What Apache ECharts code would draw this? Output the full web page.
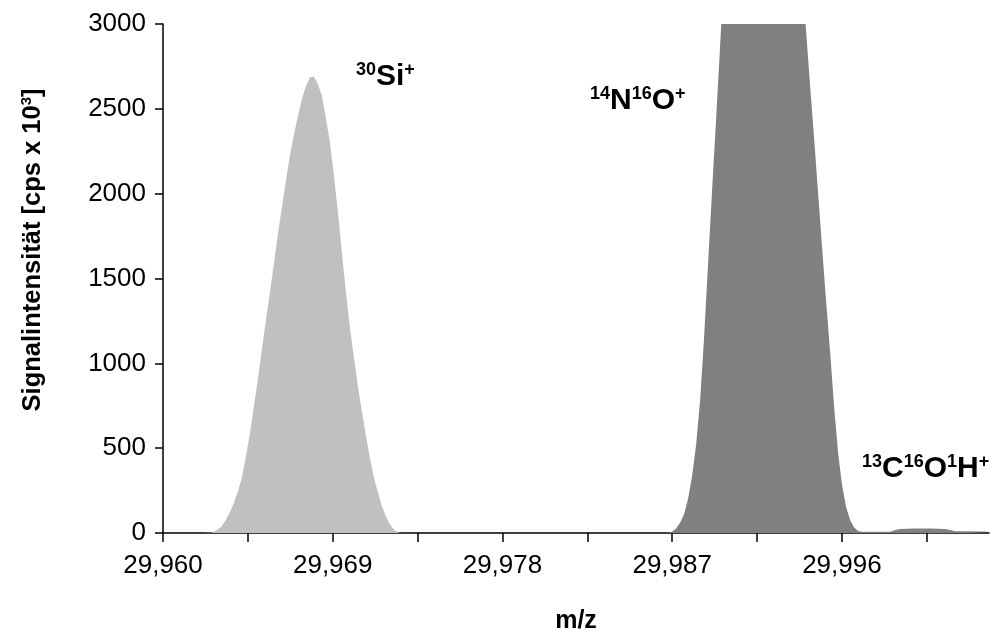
<!DOCTYPE html>
<html>
<head>
<meta charset="utf-8">
<script src="https://cdn.jsdelivr.net/npm/echarts@6/dist/echarts.min.js"></script>
<style>
  html, body { margin: 0; padding: 0; background: #fff; }
  #chart { width: 993px; height: 635px; }
</style>
</head>
<body>
<div id="chart"></div>
<script>
// m/z scans: [m/z, intensity in cps x 10^3]
const siPeak = [
  [29.96221, 0], [29.96263, 3], [29.96290, 20], [29.96311, 40], [29.96332, 75],
  [29.96353, 120], [29.96375, 175], [29.96396, 240], [29.96417, 320], [29.96438, 440],
  [29.96460, 580], [29.96481, 740], [29.96502, 900], [29.96523, 1070], [29.96544, 1240],
  [29.96566, 1410], [29.96587, 1580], [29.96608, 1750], [29.96629, 1910], [29.96651, 2070],
  [29.96672, 2220], [29.96693, 2340], [29.96714, 2450], [29.96736, 2555], [29.96757, 2630],
  [29.96778, 2685], [29.96799, 2690], [29.96820, 2650], [29.96842, 2580], [29.96863, 2450],
  [29.96884, 2310], [29.96905, 2120], [29.96927, 1900], [29.96948, 1660], [29.96969, 1430],
  [29.96990, 1220], [29.97012, 1040], [29.97033, 870], [29.97054, 720], [29.97075, 580],
  [29.97096, 450], [29.97118, 330], [29.97139, 240], [29.97160, 160], [29.97181, 100],
  [29.97203, 50], [29.97224, 20], [29.97245, 3], [29.97266, 0]
];

const noPeak = [
  [29.98678, 0], [29.98699, 8], [29.98720, 25], [29.98742, 60], [29.98763, 110],
  [29.98784, 200], [29.98805, 330], [29.98827, 520], [29.98848, 780], [29.98869, 1150],
  [29.98890, 1580], [29.98911, 2010], [29.98933, 2440], [29.98954, 2870], [29.98975, 3300],
  [29.99007, 3600], [29.99166, 3800], [29.99325, 3700],
  [29.99389, 3280], [29.99410, 2960], [29.99431, 2640], [29.99453, 2320], [29.99474, 2000],
  [29.99495, 1680], [29.99516, 1370], [29.99538, 1060], [29.99559, 740], [29.99580, 470],
  [29.99601, 280], [29.99623, 150], [29.99644, 75], [29.99665, 32], [29.99686, 12]
];

const cohPeak = [
  [29.99686, 12], [29.99707, 8], [29.99776, 7], [29.99856, 8], [29.99883, 18],
  [29.99909, 24], [29.99989, 26], [30.00068, 26], [30.00148, 24], [30.00175, 18],
  [30.00201, 11], [30.00281, 10], [30.00381, 8]
];

const xTicks = [29.960, 29.9645, 29.969, 29.9735, 29.978, 29.9825, 29.987, 29.9915, 29.996, 30.0005];
const xLabels = [29.960, 29.969, 29.978, 29.987, 29.996];
const yMax = 3000;
const yStep = 500;

const FONT = '"Liberation Sans", Arial, sans-serif';

const chart = echarts.init(document.getElementById('chart'), null, { renderer: 'canvas' });

function areaSeries(name, data, color) {
  return {
    name: name,
    type: 'line',
    data: data,
    symbol: 'none',
    clip: true,
    lineStyle: { width: 0 },
    areaStyle: { color: color, opacity: 1 },
    itemStyle: { color: color },
    silent: true,
    animation: false
  };
}

const supStyle = { fontFamily: FONT, fontWeight: 'bold', fontSize: 18, verticalAlign: 'top', lineHeight: 32 };
const mainStyle = { fontFamily: FONT, fontWeight: 'bold', fontSize: 30, lineHeight: 32 };

function ionLabel(text, left, top) {
  return {
    type: 'text',
    left: left,
    top: top,
    silent: true,
    style: {
      text: text,
      fill: '#000',
      rich: { s: supStyle, m: mainStyle }
    }
  };
}

chart.setOption({
  backgroundColor: '#fff',
  animation: false,
  grid: { left: 163, right: 4, top: 24, bottom: 102, outerBoundsMode: 'none' },
  xAxis: {
    type: 'value',
    min: 29.960,
    max: 30.0038,
    name: 'm/z',
    nameLocation: 'middle',
    nameGap: 76,
    nameTextStyle: { fontFamily: FONT, fontWeight: 'bold', fontSize: 25, color: '#000' },
    axisLine: { show: true, onZero: false, lineStyle: { color: '#000', width: 1.5 } },
    axisTick: { show: true, customValues: xTicks, length: 9, lineStyle: { color: '#000', width: 1.5 } },
    axisLabel: {
      customValues: xLabels,
      margin: 20,
      fontFamily: FONT,
      fontSize: 26,
      color: '#000',
      formatter: v => v.toFixed(3).replace('.', ',')
    },
    splitLine: { show: false }
  },
  yAxis: {
    type: 'value',
    min: 0,
    max: yMax,
    interval: yStep,
    axisLine: { show: true, lineStyle: { color: '#000', width: 1.5 } },
    axisTick: { show: true, length: 8, lineStyle: { color: '#000', width: 1.5 } },
    axisLabel: { margin: 17, fontFamily: FONT, fontSize: 26, color: '#000', formatter: v => String(v) },
    splitLine: { show: false }
  },
  series: [
    areaSeries('30Si+', siPeak, '#c0c0c0'),
    areaSeries('14N16O+', noPeak, '#808080'),
    areaSeries('13C16O1H+', cohPeak, '#808080')
  ],
  graphic: [
    ionLabel('{s|30}{m|Si}{s|+}', 356, 61),
    ionLabel('{s|14}{m|N}{s|16}{m|O}{s|+}', 590, 85),
    ionLabel('{s|13}{m|C}{s|16}{m|O}{s|1}{m|H}{s|+}', 862, 453),
    {
      type: 'text',
      x: 33,
      y: 250,
      rotation: Math.PI / 2,
      silent: true,
      style: {
        text: '{m|Signalintensität [cps x 10}{s|3}{m|]}',
        align: 'center',
        verticalAlign: 'middle',
        fill: '#000',
        rich: {
          m: { fontFamily: FONT, fontWeight: 'bold', fontSize: 25.5, lineHeight: 28 },
          s: { fontFamily: FONT, fontWeight: 'bold', fontSize: 15, lineHeight: 28, verticalAlign: 'top' }
        }
      }
    }
  ]
});
</script>
</body>
</html>
